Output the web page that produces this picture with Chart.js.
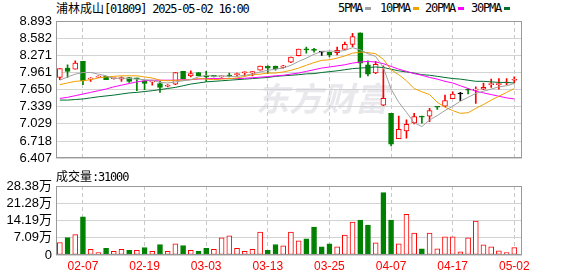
<!DOCTYPE html>
<html>
<head>
<meta charset="utf-8">
<script src="https://cdn.jsdelivr.net/npm/chart.js@4/dist/chart.umd.min.js"></script>
<style>
  body { margin: 0; width: 578px; height: 276px; overflow: hidden; position: relative; background: #fff; }
  canvas { position: absolute; left: 0; }
  .txt { position: absolute; white-space: nowrap; color: #000; font-size: 12px; line-height: 16px; }
  .cjk { font-family: 'Noto Sans CJK SC', sans-serif; }
  .asc { font-family: 'DejaVu Sans Mono', monospace; letter-spacing: -1.2px; }
  .key { position: absolute; width: 6px; height: 3px; }
</style>
</head>
<body>
<div class="txt" style="left:56px;top:0px"><span class="cjk">浦林成山</span><span class="asc">[01809] 2025-05-02 16:00</span></div>
<div id="legend"></div>
<canvas id="kline" width="578" height="170" style="top:0"></canvas>
<div class="txt" style="left:56px;top:168px"><span class="cjk">成交量</span><span class="asc">:31000</span></div>
<canvas id="vol" width="578" height="106" style="top:170px"></canvas>
<script>
'use strict';

// trading days shown on the chart
const dates = ['02-04','02-05','02-06','02-07','02-10','02-11','02-12','02-13','02-14','02-17',
  '02-18','02-19','02-20','02-21','02-24','02-25','02-26','02-27','02-28','03-03',
  '03-04','03-05','03-06','03-07','03-10','03-11','03-12','03-13','03-14','03-17',
  '03-18','03-19','03-20','03-21','03-24','03-25','03-26','03-27','03-28','03-31',
  '04-01','04-02','04-03','04-07','04-08','04-09','04-10','04-11','04-14','04-15',
  '04-16','04-17','04-22','04-23','04-24','04-25','04-28','04-29','04-30','05-02'];
const labelDates = ['02-07','02-19','03-03','03-13','03-25','04-07','04-17','05-02'];

const opens = [7.87,8.04,8.02,8.16,7.84,7.875,7.89,7.85,7.84,7.87,
  7.86,7.81,7.79,7.76,7.71,7.75,7.98,7.90,7.96,7.89,
  7.90,7.88,7.91,7.92,7.95,7.95,8.00,8.075,8.075,8.05,
  8.145,8.265,8.38,8.37,8.33,8.33,8.32,8.38,8.47,8.68,
  8.10,7.95,7.37,7.22,6.76,6.90,7.045,7.17,7.17,7.34,
  7.35,7.485,7.57,7.65,7.64,7.66,7.74,7.74,7.77,7.82];
const highs = [8.03,8.10,8.17,8.16,7.87,7.90,7.89,7.86,7.88,7.87,
  7.86,7.81,7.81,7.80,7.74,7.96,7.98,7.99,7.96,7.98,
  7.90,7.90,7.95,7.95,7.97,7.975,8.075,8.08,8.075,8.09,
  8.24,8.385,8.42,8.40,8.34,8.33,8.42,8.51,8.67,8.68,
  8.17,8.16,8.08,7.22,7.17,7.10,7.22,7.17,7.31,7.34,
  7.55,7.61,7.60,7.67,7.70,7.77,7.84,7.85,7.85,7.88];
const lows = [7.83,7.87,8.02,7.74,7.80,7.87,7.83,7.84,7.80,7.78,
  7.63,7.65,7.73,7.60,7.70,7.74,7.85,7.88,7.90,7.80,
  7.88,7.87,7.88,7.89,7.90,7.90,8.00,7.94,8.00,8.04,
  8.14,8.26,8.31,8.33,8.27,8.24,8.28,8.38,8.43,7.87,
  7.90,7.94,7.36,6.63,6.76,6.77,7.03,7.04,7.07,7.29,
  7.34,7.485,7.45,7.57,7.40,7.65,7.69,7.66,7.74,7.77];
const closes = [8.03,7.98,8.13,7.81,7.86,7.89,7.83,7.855,7.87,7.80,
  7.845,7.76,7.81,7.69,7.73,7.96,7.85,7.94,7.90,7.88,
  7.89,7.89,7.895,7.93,7.97,7.975,8.075,8.04,8.03,8.08,
  8.24,8.385,8.37,8.36,8.33,8.28,8.36,8.47,8.61,8.13,
  7.93,8.11,7.49,6.66,6.93,7.02,7.16,7.15,7.27,7.33,
  7.45,7.57,7.57,7.64,7.645,7.69,7.75,7.75,7.78,7.83];

const ma5 = [7.82,7.88,7.93,7.96,7.96,7.93,7.90,7.85,7.86,7.85,
  7.84,7.83,7.82,7.78,7.77,7.79,7.81,7.83,7.88,7.91,
  7.89,7.90,7.89,7.89,7.91,7.93,7.97,8.00,8.02,8.04,
  8.09,8.16,8.22,8.29,8.34,8.35,8.34,8.36,8.41,8.37,
  8.30,8.25,8.05,7.66,7.42,7.24,7.05,6.98,7.10,7.18,
  7.27,7.35,7.44,7.51,7.58,7.62,7.66,7.70,7.72,7.76];
const ma10 = [7.74,7.77,7.80,7.81,7.83,7.86,7.88,7.89,7.90,7.90,
  7.90,7.88,7.86,7.82,7.81,7.82,7.82,7.83,7.85,7.84,
  7.83,7.84,7.85,7.86,7.89,7.92,7.93,7.95,7.95,7.97,
  8.00,8.04,8.09,8.14,8.18,8.19,8.22,8.26,8.31,8.33,
  8.32,8.30,8.20,8.01,7.92,7.81,7.67,7.61,7.56,7.42,
  7.33,7.27,7.22,7.23,7.31,7.38,7.46,7.53,7.60,7.67];
const ma20 = [7.49,7.51,7.54,7.57,7.60,7.63,7.66,7.70,7.73,7.76,
  7.79,7.81,7.82,7.82,7.82,7.82,7.83,7.83,7.84,7.85,
  7.85,7.85,7.85,7.85,7.855,7.865,7.875,7.885,7.90,7.91,
  7.93,7.95,7.98,8.01,8.04,8.06,8.08,8.10,8.13,8.15,
  8.16,8.15,8.12,8.07,8.02,7.98,7.94,7.91,7.87,7.84,
  7.80,7.77,7.72,7.67,7.62,7.59,7.56,7.53,7.50,7.48];
const ma30 = [7.46,7.46,7.47,7.48,7.50,7.52,7.535,7.55,7.57,7.59,
  7.60,7.615,7.63,7.65,7.67,7.69,7.72,7.75,7.77,7.79,
  7.80,7.81,7.82,7.83,7.84,7.85,7.86,7.87,7.89,7.90,
  7.91,7.92,7.935,7.94,7.96,7.975,7.99,8.01,8.03,8.04,
  8.05,8.06,8.05,8.02,7.99,7.97,7.95,7.92,7.91,7.89,
  7.87,7.85,7.84,7.82,7.80,7.80,7.79,7.78,7.78,7.77];

const volumes = [51300,71600,83800,156700,23000,9500,27000,14900,23000,18900,
  18900,31000,14900,43200,14900,45900,39200,18900,14900,27000,
  23000,70300,78400,27000,14900,23000,94600,18900,43200,37800,
  94600,58100,66200,114800,33800,45900,33800,82400,135100,143200,
  122900,50000,256700,143200,45900,167500,90500,25700,90500,25700,
  74300,74300,13500,70300,139200,41900,33800,17600,9500,31000];

const priceTicks = [6.407,6.718,7.029,7.339,7.650,7.961,8.271,8.582,8.893];
const volTicks = [0,70950,141900,212850,283800];
const volTickLabels = ['0','7.09万','14.19万','21.28万','28.38万'];
const maNames = ['5PMA','10PMA','20PMA','30PMA'];

const UP = '#ff0000', DOWN = '#008000', FLAT = '#000000';
const maColors = ['#a0a0a0','#f0a000','#ff00ff','#006f30'];
const GRID = '#d3d3d3';
const FONT = "'Liberation Sans', 'Noto Sans CJK SC', sans-serif";

// legend in the header
const legendX = [338, 380, 425, 471];
let legend = document.getElementById('legend');
maNames.forEach((n, k) => {
  let t = document.createElement('div');
  t.className = 'txt asc';
  t.style.left = legendX[k] + 'px';
  t.style.top = '0px';
  t.textContent = n;
  legend.appendChild(t);
  let b = document.createElement('div');
  b.className = 'key';
  b.style.left = (legendX[k] + n.length * 6 + 3) + 'px';
  b.style.top = '7px';
  b.style.background = maColors[k];
  legend.appendChild(b);
});

function candleColor(i) {
  if (closes[i] > opens[i]) return UP;
  if (closes[i] < opens[i]) return DOWN;
  return FLAT;
}
function volColor(i) {
  let prev = i ? closes[i - 1] : opens[0];
  return closes[i] >= prev ? UP : DOWN;
}

const idx = dates.map((d, i) => i);
const labelIdx = idx.filter(i => labelDates.includes(dates[i]));

// frame round the plot area
const frame = {
  id: 'frame',
  afterDraw(chart) {
    let { ctx, chartArea: a } = chart;
    ctx.save();
    ctx.strokeStyle = '#999';
    ctx.lineWidth = 1;
    ctx.strokeRect(Math.round(a.left) + 0.5, Math.round(a.top) + 0.5,
      Math.round(a.right - a.left) - 1, Math.round(a.bottom - a.top) - 1);
    ctx.restore();
  }
};

// faint site watermark behind the candles
const watermark = {
  id: 'watermark',
  beforeDatasetsDraw(chart) {
    let ctx = chart.ctx;
    ctx.save();
    ctx.fillStyle = 'rgba(205,205,215,0.45)';
    ctx.font = "italic bold 33px 'Noto Sans CJK SC'";
    ctx.textBaseline = 'alphabetic';
    ctx.fillText('东方财富', 256, 111);
    ctx.restore();
  }
};

function xScale(showLabels) {
  return {
    type: 'linear',
    min: -0.5,
    max: 60,
    offset: false,
    afterBuildTicks: s => { s.ticks = labelIdx.map(v => ({ value: v })); },
    afterFit: s => { s.height = showLabels ? 21 : 0; },
    grid: { color: '#c8c8c8', drawTicks: false, offset: false },
    border: { display: false, dash: [4, 3] },
    ticks: {
      display: showLabels,
      color: UP,
      font: { family: FONT, size: 12 },
      padding: 4,
      maxRotation: 0,
      autoSkip: false,
      callback: v => dates[v]
    }
  };
}

function yScale(min, max, ticks, label) {
  return {
    min: min,
    max: max,
    afterBuildTicks: s => { s.ticks = ticks.map(v => ({ value: v })); },
    afterFit: s => { s.width = 56; },
    grid: { color: GRID, drawTicks: false },
    border: { display: false },
    ticks: {
      color: '#000',
      font: { family: FONT, size: 13 },
      padding: 4,
      autoSkip: false,
      callback: label
    }
  };
}

// price panel: wicks, bodies and moving averages
let maSets = [ma5, ma10, ma20, ma30].map((arr, k) => ({
  type: 'line',
  data: arr.map((v, i) => ({ x: i, y: v })),
  borderColor: maColors[k],
  borderWidth: 1,
  pointRadius: 0,
  tension: 0,
  order: 0
}));

new Chart(document.getElementById('kline'), {
  type: 'bar',
  data: {
    datasets: [
      ...maSets,
      {
        data: idx.map(i => ({ x: i, y: [opens[i], closes[i]] })),
        backgroundColor: idx.map(i => candleColor(i) === UP ? '#fff' : candleColor(i)),
        borderColor: idx.map(candleColor),
        borderWidth: 1,
        borderSkipped: false,
        barThickness: 5,
        minBarLength: 1,
        grouped: false,
        order: 1
      },
      {
        data: idx.map(i => ({ x: i, y: [lows[i], highs[i]] })),
        backgroundColor: idx.map(candleColor),
        borderWidth: 0,
        barThickness: 1,
        grouped: false,
        order: 2
      }
    ]
  },
  options: {
    responsive: false,
    animation: false,
    events: [],
    layout: { padding: { top: 21, right: 56, bottom: 5, left: 0 } },
    plugins: { legend: { display: false }, tooltip: { enabled: false } },
    scales: {
      x: xScale(false),
      y: yScale(6.407, 8.893, priceTicks, v => v.toFixed(3))
    }
  },
  plugins: [watermark, frame]
});

// volume panel
new Chart(document.getElementById('vol'), {
  type: 'bar',
  data: {
    datasets: [{
      data: idx.map(i => ({ x: i, y: volumes[i] })),
      backgroundColor: idx.map(i => volColor(i) === UP ? '#fff' : DOWN),
      borderColor: idx.map(volColor),
      borderWidth: 1,
      borderSkipped: false,
      barThickness: 5
    }]
  },
  options: {
    responsive: false,
    animation: false,
    events: [],
    layout: { padding: { top: 16, right: 56, bottom: 0, left: 0 } },
    plugins: { legend: { display: false }, tooltip: { enabled: false } },
    scales: {
      x: xScale(true),
      y: yScale(0, 283800, volTicks, v => volTickLabels[volTicks.indexOf(v)])
    }
  },
  plugins: [frame]
});
</script>
</body>
</html>
